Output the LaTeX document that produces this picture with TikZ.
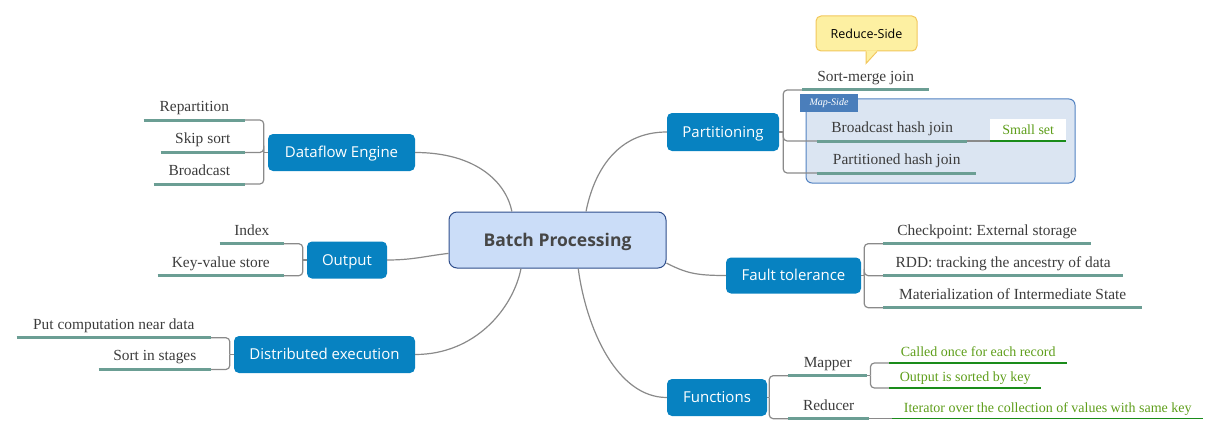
\documentclass[tikz,border=0pt]{standalone}
\usepackage{fontspec}
\setmainfont{Liberation Serif}
\newfontfamily\osans{Open Sans}
\usetikzlibrary{calc}
\frenchspacing
\definecolor{mainblue}{HTML}{0782C1}
\definecolor{centerfill}{HTML}{CBDDF8}
\definecolor{centerdraw}{HTML}{2F4E8C}
\definecolor{centertext}{HTML}{464646}
\definecolor{mapfill}{HTML}{DBE5F2}
\definecolor{mapdraw}{HTML}{5282C2}
\definecolor{maplabel}{HTML}{4A7EBB}
\definecolor{yfill}{HTML}{FDF0A2}
\definecolor{ydraw}{HTML}{F2C75C}
\definecolor{ulteal}{HTML}{6B9E94}
\definecolor{gtext}{HTML}{5E9E1A}
\definecolor{gline}{HTML}{1A8C1A}
\definecolor{brgray}{HTML}{8A8A8A}
\definecolor{leafgray}{HTML}{3C3C3C}
\begin{document}
\frenchspacing
\begin{tikzpicture}[x=1pt,y=-1pt,
  center/.style={fill=centerfill, draw=centerdraw, line width=1pt, rounded corners=8pt,
    text=centertext, font=\osans\bfseries\fontsize{17.5}{20}\selectfont, inner sep=0pt,
    text height=12.5pt, text depth=0pt},
  main/.style={fill=mainblue, text=white, rounded corners=5pt,
    font=\osans\fontsize{15}{17}\selectfont, inner sep=0pt, minimum height=37pt,
    text height=10.7pt, text depth=0pt},
  leaf/.style={font=\fontsize{15.4}{18}\selectfont\frenchspacing, text=leafgray, inner sep=0pt,
    text height=11pt, text depth=8.5pt, minimum width=#1},
  gleaf/.style={font=\fontsize{14}{16}\selectfont, text=gtext, inner sep=0pt,
    text height=10pt, text depth=6pt, minimum width=#1},
  ul/.style={draw=ulteal, line width=3pt},
  gul/.style={draw=gline, line width=1.3pt},
  conn/.style={draw=brgray, line width=1.2pt},
  br/.style={draw=brgray, line width=1.2pt, rounded corners=4pt},
  mapbox/.style={fill=mapfill, draw=mapdraw, line width=1pt, rounded corners=6pt, inner sep=0pt},
  maptag/.style={fill=maplabel, text=white, inner sep=0pt, font=\itshape\fontsize{10}{11}\selectfont},
  callbox/.style={fill=yfill, draw=ydraw, line width=1pt, rounded corners=5pt, inner sep=0pt,
    font=\osans\fontsize{12.5}{14}\selectfont, text=black}
]
\useasboundingbox (0,0) rectangle (1219,436);

% Map-Side group
\node[mapbox, minimum width=269pt, minimum height=84pt] (ms) at (940.5,141) {};
\node[maptag, minimum width=58pt, minimum height=18pt] (mst) at (829,103) {Map-Side};

% Reduce-Side callout
\node[callbox, minimum width=101pt, minimum height=35pt] (rs) at (866.5,33.5) {Reduce-Side};
\coordinate (rsTip) at ($(rs.south)+(-0.5,12)$);
\path[fill=yfill] ($(rs.south)+(-0.5,-1)$) -- (rsTip) -- ($(rs.south)+(10.5,-1)$) -- cycle;
\draw[draw=ydraw, line width=1pt] ($(rs.south)+(-0.5,0)$) -- (rsTip) -- ($(rs.south)+(10.5,0)$);

% central and main nodes
\node[center, minimum width=217pt, minimum height=56pt] (bp) at (557.5,240) {Batch Processing};
\node[main, minimum width=147pt] (de) at (341.5,152.5) {Dataflow Engine};
\node[main, minimum width=80pt] (out) at (347,260) {Output};
\node[main, minimum width=181pt] (dist) at (324.5,354.5) {Distributed execution};
\node[main, minimum width=112pt, minimum height=38pt] (part) at (723,132) {Partitioning};
\node[main, minimum width=135pt, minimum height=36pt] (ft) at (793.5,275.5) {Fault tolerance};
\node[main, minimum width=100pt] (fn) at (717,397.5) {Functions};

% central connectors
\draw[conn] (bp.148) .. controls +(-6,-30) and +(60,0) .. (de.east);
\draw[conn] (bp.45) .. controls +(8,-40) and +(-50,0) .. (part.west);
\draw[conn] (bp.187) .. controls +(-25,3) and +(25,0) .. (out.east);
\draw[conn] (bp.218) .. controls +(-8,40) and +(60,0) .. (dist.east);
\draw[conn] (bp.348) .. controls +(20,10) and +(-30,0) .. (ft.west);
\draw[conn] (bp.306) .. controls +(8,60) and +(-50,0) .. (fn.west);

% Dataflow Engine leaves
\node[leaf=101pt, anchor=south east] (rep) at (245,120) {Repartition};
\node[leaf=84pt, anchor=south east] (skp) at (245,152.5) {Skip sort};
\node[leaf=91pt, anchor=south east] (brd) at (245,184) {Broadcast};
\coordinate (deJ) at ($(de.west)+(-4,0)$);
\draw[br] (de.west) -- (deJ);
\draw[br] (deJ) |- (rep.south east);
\draw[br] (deJ) |- (skp.south east);
\draw[br] (deJ) |- (brd.south east);
\foreach \n in {rep,skp,brd} \draw[ul] (\n.south west) -- (\n.south east);

% Output leaves
\node[leaf=64pt, anchor=south east] (idx) at (284,243.7) {Index};
\node[leaf=126pt, anchor=south east] (kvs) at (284,275.7) {Key-value store};
\coordinate (outJ) at ($(out.west)+(-4,0)$);
\draw[br] (out.west) -- (outJ);
\draw[br] (outJ) |- (idx.south east);
\draw[br] (outJ) |- (kvs.south east);
\foreach \n in {idx,kvs} \draw[ul] (\n.south west) -- (\n.south east);

% Distributed execution leaves
\node[leaf=194pt, anchor=south east] (put) at (211,337.7) {Put computation near data};
\node[leaf=112pt, anchor=south east] (sis) at (211,369.5) {Sort in stages};
\coordinate (distJ) at ($(dist.west)+(-4,0)$);
\draw[br] (dist.west) -- (distJ);
\draw[br] (distJ) |- (put.south east);
\draw[br] (distJ) |- (sis.south east);
\foreach \n in {put,sis} \draw[ul] (\n.south west) -- (\n.south east);

% Partitioning leaves
\node[leaf=127pt, anchor=south west] (smj) at (802,90) {Sort-merge join};
\node[leaf=150pt, anchor=south west] (bhj) at (817,141) {Broadcast hash join};
\node[leaf=159pt, anchor=south west] (phj) at (817,173) {Partitioned hash join};
\node[gleaf=76pt, fill=white, text height=16pt, anchor=south west] (ss) at (990,141) {Small set};
\coordinate (partJ) at ($(part.east)+(4,0)$);
\draw[br] (part.east) -- (partJ);
\draw[br] (partJ) |- (smj.south west);
\draw[br] (partJ) |- (bhj.south west);
\draw[br] (partJ) |- (phj.south west);
\draw[conn] (bhj.south east) -- (ss.south west);
\foreach \n in {smj,bhj,phj} \draw[ul] (\n.south west) -- (\n.south east);
\draw[gul] (ss.south west) -- (ss.south east);

% Fault tolerance leaves
\node[leaf=208pt, anchor=south west] (cp) at (883,243.7) {Checkpoint: External storage};
\node[leaf=240pt, anchor=south west] (rdd) at (883,275.7) {RDD: tracking the ancestry of data};
\node[leaf=259pt, anchor=south west] (mat) at (883,307.7) {Materialization of Intermediate State};
\coordinate (ftJ) at ($(ft.east)+(3,0)$);
\draw[br] (ft.east) -- (ftJ);
\draw[br] (ftJ) |- (cp.south west);
\draw[br] (ftJ) |- (rdd.south west);
\draw[br] (ftJ) |- (mat.south west);
\foreach \n in {cp,rdd,mat} \draw[ul] (\n.south west) -- (\n.south east);

% Functions leaves
\node[leaf=79pt, anchor=south west] (map) at (788,375.7) {Mapper};
\node[leaf=81pt, anchor=south west] (red) at (788,418.7) {Reducer};
\node[gleaf=178pt, anchor=south west] (c1) at (889,363) {Called once for each record};
\node[gleaf=152pt, anchor=south west] (c2) at (889,388) {Output is sorted by key};
\node[gleaf=311pt, anchor=south west] (it) at (892,418.7) {Iterator over the collection of values with same key};
\coordinate (fnJ) at ($(fn.east)+(2,0)$);
\draw[br] (fn.east) -- (fnJ);
\draw[br] (fnJ) |- (map.south west);
\draw[br] (fnJ) |- (red.south west);
\coordinate (mapJ) at ($(map.south east)+(3,0)$);
\draw[br] (map.south east) -- (mapJ);
\draw[br] (mapJ) |- (c1.south west);
\draw[br] (mapJ) |- (c2.south west);
\draw[conn] (red.south east) -- (it.south west);
\foreach \n in {map,red} \draw[ul] (\n.south west) -- (\n.south east);
\foreach \n in {c1,c2,it} \draw[gul] (\n.south west) -- (\n.south east);
\end{tikzpicture}
\end{document}
